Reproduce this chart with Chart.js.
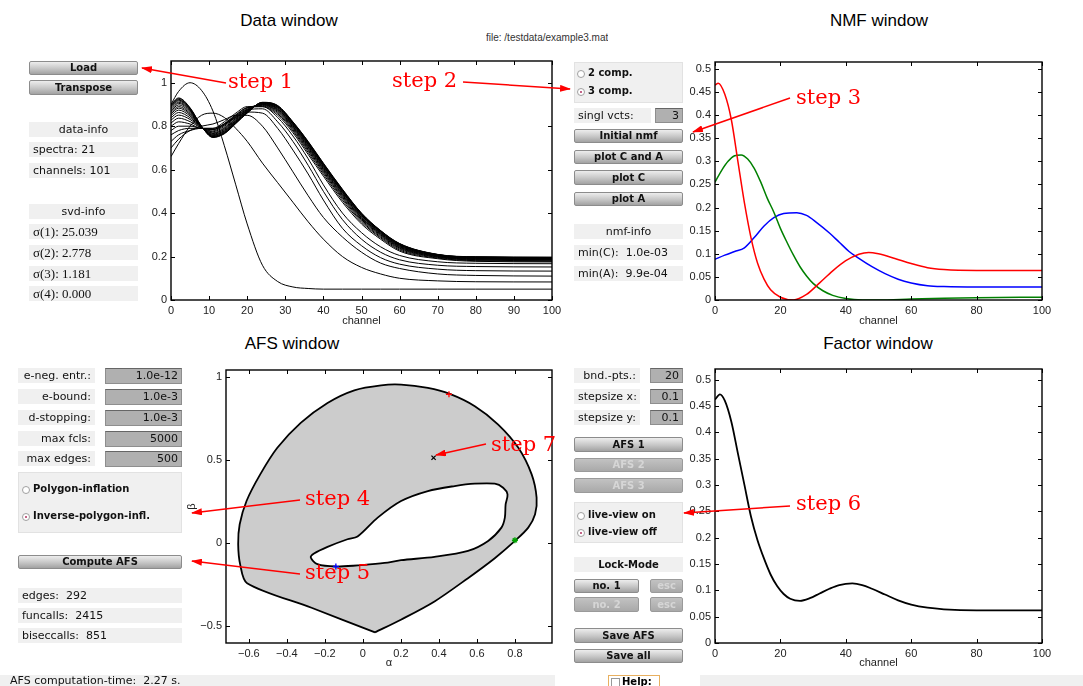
<!DOCTYPE html>
<html>
<head>
<meta charset="utf-8">
<script src="https://cdn.jsdelivr.net/npm/chart.js@4.4.1/dist/chart.umd.min.js"></script>
<style>
body{margin:0;background:#fff;width:1083px;height:686px;overflow:hidden;position:relative;font-family:"DejaVu Sans",sans-serif}
.w{position:absolute;box-sizing:border-box;white-space:pre;overflow:hidden}
.lbl{background:#f0f0f0;font-size:11px;color:#111;padding:0 4px}
.serif{font-family:"Liberation Serif",serif;font-size:13px}
.btn{background:linear-gradient(#ededed,#c6c6c6 55%,#a2a2a2);border:1px solid #8c8c8c;border-radius:2px;font-weight:bold;font-size:10px;text-align:center;color:#111}
.btn.off{background:linear-gradient(#c2c2c2,#a9a9a9);color:#d6d6d6;border-color:#9a9a9a}
.inp{background:#b0b0b0;border:1px solid #8e8e8e;border-top-color:#666;font-size:11px;text-align:right;padding-right:3px;color:#111}
.panel{background:#f0f0f0;border:1px solid #e2e2e2}
.dot{position:absolute;width:8px;height:8px;border:1px solid #a0a0a0;border-radius:50%;background:#fff;box-sizing:border-box}
.dot.on::after{content:"";position:absolute;left:2px;top:2px;width:2px;height:2px;border-radius:50%;background:#b03060}
.rlab{position:absolute;font-weight:bold;font-size:10px;color:#111;white-space:pre}
.title{position:absolute;font:17px "Liberation Sans",sans-serif;color:#000;text-align:center;width:300px}
canvas{position:absolute}
svg{position:absolute;left:0;top:0}
</style>
</head>
<body>
<div class="title" style="left:139px;top:11px">Data window</div>
<div class="title" style="left:729px;top:11px">NMF window</div>
<div class="title" style="left:142px;top:334px">AFS window</div>
<div class="title" style="left:728px;top:334px">Factor window</div>
<div class="w" style="left:486px;top:32px;font:10px 'Liberation Sans',sans-serif;color:#333">file: /testdata/example3.mat</div>

<canvas id="cData" width="425" height="275" style="left:140px;top:55px"></canvas>
<canvas id="cNmf" width="380" height="275" style="left:680px;top:55px"></canvas>
<canvas id="cAfs" width="380" height="310" style="left:185px;top:362px"></canvas>
<canvas id="cFac" width="380" height="310" style="left:680px;top:362px"></canvas>

<svg width="1083" height="686">
  <defs>
    <marker id="ah" markerWidth="11" markerHeight="7" refX="10" refY="3.5" orient="auto" markerUnits="userSpaceOnUse">
      <path d="M0,0 L11,3.5 L0,7 z" fill="#ff0000"/>
    </marker>
  </defs>
  <g stroke="#ff0000" stroke-width="1.5" marker-end="url(#ah)">
    <line x1="226" y1="83" x2="142" y2="68"/>
    <line x1="463" y1="82" x2="570" y2="89"/>
    <line x1="790" y1="98" x2="693" y2="132"/>
    <line x1="300" y1="500" x2="192" y2="513"/>
    <line x1="300" y1="574" x2="192" y2="561"/>
    <line x1="790" y1="506" x2="684" y2="513"/>
    <line x1="486" y1="444" x2="436" y2="455"/>
  </g>
  <g fill="#ff0000" font-family="DejaVu Serif, serif" font-size="21">
    <text x="228" y="88">step 1</text>
    <text x="392" y="87">step 2</text>
    <text x="796" y="104">step 3</text>
    <text x="305" y="505">step 4</text>
    <text x="305" y="579">step 5</text>
    <text x="796" y="510">step 6</text>
    <text x="491" y="451">step 7</text>
  </g>
</svg>

<script>
// ---- data window: 21 spectra sampled at these channels ----
const channelGrid = [0, 2, 5, 8, 11, 14, 17, 20, 24, 28, 32, 36, 40, 45, 50, 55, 60, 70, 80, 100];
const spec01 = [0.90, 0.96, 1.00, 0.965, 0.87, 0.71, 0.53, 0.35, 0.16, 0.085, 0.06, 0.053, 0.05, 0.05, 0.05, 0.05, 0.05, 0.05, 0.05, 0.05];
const spec02 = [0.66, 0.72, 0.80, 0.85, 0.86, 0.84, 0.79, 0.73, 0.63, 0.54, 0.45, 0.36, 0.28, 0.20, 0.15, 0.12, 0.10, 0.088, 0.084, 0.083];
const spec03 = [0.70, 0.74, 0.78, 0.80, 0.81, 0.83, 0.85, 0.85, 0.80, 0.70, 0.59, 0.48, 0.38, 0.29, 0.22, 0.17, 0.145, 0.12, 0.113, 0.11];
const spec04 = [0.73, 0.76, 0.78, 0.79, 0.79, 0.81, 0.84, 0.865, 0.86, 0.79, 0.69, 0.58, 0.46, 0.33, 0.25, 0.195, 0.165, 0.142, 0.135, 0.133];
const spec05 = [0.76, 0.78, 0.79, 0.79, 0.785, 0.805, 0.845, 0.875, 0.88, 0.82, 0.73, 0.62, 0.50, 0.37, 0.28, 0.22, 0.185, 0.16, 0.154, 0.152];
const spec06 = [0.78, 0.80, 0.80, 0.79, 0.785, 0.81, 0.85, 0.885, 0.89, 0.84, 0.755, 0.65, 0.53, 0.40, 0.31, 0.245, 0.205, 0.176, 0.169, 0.167];
const spec07 = [0.80, 0.82, 0.81, 0.79, 0.79, 0.82, 0.86, 0.89, 0.89, 0.85, 0.77, 0.67, 0.57, 0.45, 0.35, 0.28, 0.225, 0.19, 0.178, 0.175];
const spec08 = [0.815, 0.837, 0.821, 0.792, 0.784, 0.812, 0.853, 0.886, 0.893, 0.857, 0.778, 0.679, 0.579, 0.459, 0.358, 0.286, 0.230, 0.193, 0.181, 0.178];
const spec09 = [0.828, 0.851, 0.831, 0.793, 0.778, 0.805, 0.847, 0.882, 0.896, 0.863, 0.784, 0.687, 0.587, 0.467, 0.364, 0.291, 0.235, 0.196, 0.184, 0.181];
const spec10 = [0.839, 0.863, 0.839, 0.794, 0.774, 0.799, 0.841, 0.878, 0.898, 0.868, 0.790, 0.693, 0.593, 0.473, 0.370, 0.296, 0.239, 0.198, 0.186, 0.184];
const spec11 = [0.849, 0.874, 0.847, 0.795, 0.769, 0.793, 0.836, 0.875, 0.900, 0.872, 0.795, 0.699, 0.599, 0.479, 0.375, 0.300, 0.242, 0.200, 0.188, 0.186];
const spec12 = [0.857, 0.883, 0.853, 0.796, 0.766, 0.789, 0.833, 0.873, 0.901, 0.876, 0.799, 0.704, 0.604, 0.484, 0.379, 0.303, 0.245, 0.201, 0.190, 0.188];
const spec13 = [0.864, 0.890, 0.858, 0.796, 0.763, 0.785, 0.829, 0.871, 0.903, 0.879, 0.802, 0.708, 0.608, 0.488, 0.382, 0.306, 0.247, 0.203, 0.191, 0.189];
const spec14 = [0.871, 0.898, 0.863, 0.797, 0.760, 0.781, 0.826, 0.869, 0.904, 0.882, 0.806, 0.713, 0.613, 0.493, 0.386, 0.308, 0.250, 0.204, 0.193, 0.191];
const spec15 = [0.877, 0.905, 0.868, 0.798, 0.758, 0.778, 0.823, 0.867, 0.905, 0.885, 0.809, 0.716, 0.616, 0.496, 0.389, 0.311, 0.252, 0.205, 0.194, 0.192];
const spec16 = [0.882, 0.910, 0.872, 0.798, 0.756, 0.775, 0.821, 0.865, 0.906, 0.887, 0.811, 0.719, 0.619, 0.499, 0.391, 0.313, 0.254, 0.206, 0.195, 0.193];
const spec17 = [0.887, 0.916, 0.875, 0.799, 0.753, 0.772, 0.818, 0.864, 0.907, 0.889, 0.814, 0.722, 0.622, 0.502, 0.394, 0.315, 0.255, 0.207, 0.196, 0.194];
const spec18 = [0.891, 0.920, 0.878, 0.799, 0.752, 0.770, 0.816, 0.863, 0.908, 0.891, 0.816, 0.725, 0.625, 0.505, 0.396, 0.316, 0.257, 0.208, 0.197, 0.195];
const spec19 = [0.894, 0.923, 0.881, 0.799, 0.751, 0.768, 0.815, 0.862, 0.909, 0.892, 0.817, 0.726, 0.626, 0.506, 0.397, 0.318, 0.258, 0.209, 0.198, 0.196];
const spec20 = [0.897, 0.927, 0.883, 0.800, 0.749, 0.767, 0.813, 0.861, 0.909, 0.894, 0.819, 0.728, 0.628, 0.508, 0.399, 0.319, 0.259, 0.209, 0.198, 0.196];
const spec21 = [0.900, 0.930, 0.885, 0.800, 0.748, 0.765, 0.812, 0.860, 0.910, 0.895, 0.820, 0.730, 0.630, 0.510, 0.400, 0.320, 0.260, 0.210, 0.199, 0.197];
const spectraRows = [spec01, spec02, spec03, spec04, spec05, spec06, spec07, spec08, spec09, spec10, spec11,
                     spec12, spec13, spec14, spec15, spec16, spec17, spec18, spec19, spec20, spec21];

// ---- NMF window: three factors ----
const nmfRedX = [0, 1, 3, 5, 7, 9, 11, 13, 15, 17, 20, 24, 28, 32, 36, 40, 44, 47, 50, 55, 60, 65, 70, 80, 90, 100];
const nmfRed = [0.465, 0.469, 0.445, 0.39, 0.30, 0.21, 0.135, 0.08, 0.045, 0.022, 0.006, 0, 0.012, 0.037, 0.063, 0.085, 0.099, 0.103, 0.10, 0.09, 0.079, 0.07, 0.066, 0.064, 0.064, 0.064];
const nmfGreenX = [0, 2, 4, 6, 8, 10, 12, 14, 16, 18, 20, 22, 24, 26, 28, 30, 33, 36, 40, 45, 50, 60, 70, 80, 100];
const nmfGreen = [0.255, 0.28, 0.30, 0.312, 0.314, 0.305, 0.285, 0.255, 0.22, 0.19, 0.155, 0.125, 0.097, 0.072, 0.052, 0.036, 0.02, 0.01, 0.003, 0, 0, 0.002, 0.004, 0.005, 0.006];
const nmfBlueX = [0, 3, 6, 9, 12, 15, 18, 21, 25, 28, 31, 35, 38, 41, 44, 48, 52, 56, 60, 65, 70, 80, 100];
const nmfBlue = [0.088, 0.097, 0.105, 0.113, 0.135, 0.16, 0.178, 0.187, 0.189, 0.183, 0.168, 0.145, 0.125, 0.105, 0.09, 0.072, 0.057, 0.045, 0.037, 0.031, 0.029, 0.028, 0.028];

// ---- Factor window ----
const factorX = [0, 1.5, 3, 5, 7, 9, 11, 13, 15, 17, 19, 21, 23, 26, 29, 32, 35, 38, 42, 45, 48, 52, 56, 60, 65, 70, 80, 100];
const factorY = [0.462, 0.472, 0.46, 0.42, 0.36, 0.30, 0.24, 0.195, 0.16, 0.13, 0.108, 0.093, 0.084, 0.08, 0.085, 0.094, 0.103, 0.11, 0.113, 0.11, 0.103, 0.092, 0.081, 0.073, 0.067, 0.064, 0.062, 0.062];

// ---- AFS window: outer boundary and inner hole (alpha, beta) ----
const outerAlpha = [0.064, -0.27, -0.609, -0.645, -0.656, -0.648, -0.612, -0.54, -0.45, -0.327, -0.186, -0.045, 0.096, 0.201, 0.342, 0.457, 0.589, 0.712, 0.818, 0.888, 0.914, 0.906, 0.87, 0.80, 0.694, 0.553, 0.377, 0.20, 0.064];
const outerBeta = [-0.536, -0.388, -0.24, -0.13, -0.006, 0.114, 0.254, 0.414, 0.574, 0.724, 0.844, 0.92, 0.95, 0.954, 0.934, 0.898, 0.824, 0.714, 0.574, 0.414, 0.274, 0.174, 0.094, 0.014, -0.09, -0.21, -0.35, -0.46, -0.536];
const holeAlpha = [-0.01, -0.142, -0.239, -0.274, -0.257, -0.186, -0.081, -0.028, 0.078, 0.201, 0.342, 0.483, 0.589, 0.694, 0.738, 0.761, 0.751, 0.747, 0.729, 0.659, 0.553, 0.377, 0.201, 0.131, -0.01];
const holeBeta = [-0.132, -0.14, -0.126, -0.086, -0.062, -0.022, 0.024, 0.04, 0.154, 0.254, 0.314, 0.344, 0.358, 0.358, 0.334, 0.294, 0.234, 0.154, 0.094, 0.014, -0.046, -0.082, -0.102, -0.116, -0.132];
const markRed = [0.453, 0.896];
const markGreen = [0.80, 0.018];
const markBlue = [-0.142, -0.14];
const markBlack = [0.372, 0.514];

// ---- tick values ----
const dataXTicks = [0, 10, 20, 30, 40, 50, 60, 70, 80, 90, 100];
const dataYTicks = [0, 0.2, 0.4, 0.6, 0.8, 1];
const chanTicks = [0, 20, 40, 60, 80, 100];
const factorTicks = [0, 0.05, 0.1, 0.15, 0.2, 0.25, 0.3, 0.35, 0.4, 0.45, 0.5];
const alphaTicks = [-0.6, -0.4, -0.2, 0, 0.2, 0.4, 0.6, 0.8];
const betaTicks = [-0.5, 0, 0.5, 1];

// ---- GUI widgets ----
const widgets = [
  ['btn', 'Load', 29, 61, 109, 14], ['btn', 'Transpose', 29, 80, 109, 15],
  ['lbl c', 'data-info', 29, 122, 109, 15], ['lbl', 'spectra: 21', 29, 142, 109, 15], ['lbl', 'channels: 101', 29, 163, 109, 15],
  ['lbl c', 'svd-info', 29, 204, 109, 15],
  ['lbl serif', 'σ(1): 25.039', 29, 224, 109, 15], ['lbl serif', 'σ(2): 2.778', 29, 245, 109, 15],
  ['lbl serif', 'σ(3): 1.181', 29, 266, 109, 15], ['lbl serif', 'σ(4): 0.000', 29, 286, 109, 15],
  ['panel', '', 574, 62, 109, 41],
  ['lbl', 'singl vcts:', 574, 108, 77, 15], ['inp', '3', 655, 108, 28, 15],
  ['btn', 'Initial nmf', 574, 129, 109, 14], ['btn', 'plot C and A', 574, 150, 109, 14],
  ['btn', 'plot C', 574, 170, 109, 15], ['btn', 'plot A', 574, 192, 109, 14],
  ['lbl c', 'nmf-info', 574, 224, 109, 15], ['lbl', 'min(C):  1.0e-03', 574, 245, 109, 15], ['lbl', 'min(A):  9.9e-04', 574, 266, 109, 15],
  ['lbl r', 'e-neg. entr.:', 18, 368, 77, 15], ['inp', '1.0e-12', 105, 368, 77, 16],
  ['lbl r', 'e-bound:', 18, 389, 77, 15], ['inp', '1.0e-3', 105, 389, 77, 16],
  ['lbl r', 'd-stopping:', 18, 410, 77, 15], ['inp', '1.0e-3', 105, 410, 77, 16],
  ['lbl r', 'max fcls:', 18, 431, 77, 15], ['inp', '5000', 105, 431, 77, 16],
  ['lbl r', 'max edges:', 18, 451, 77, 15], ['inp', '500', 105, 451, 77, 16],
  ['panel', '', 18, 472, 164, 61],
  ['btn', 'Compute AFS', 18, 555, 164, 14],
  ['lbl', 'edges:  292', 18, 588, 164, 15], ['lbl', 'funcalls:  2415', 18, 608, 164, 15], ['lbl', 'biseccalls:  851', 18, 628, 164, 15],
  ['lbl', 'AFS computation-time:  2.27 s.', 0, 675, 555, 12],
  ['lbl', '', 700, 675, 383, 12],
  ['lbl r', 'bnd.-pts.:', 574, 368, 66, 15], ['inp', '20', 650, 368, 33, 15],
  ['lbl r', 'stepsize x:', 574, 389, 66, 15], ['inp', '0.1', 650, 389, 33, 15],
  ['lbl r', 'stepsize y:', 574, 410, 66, 15], ['inp', '0.1', 650, 410, 33, 15],
  ['btn', 'AFS 1', 574, 437, 109, 15], ['btn off', 'AFS 2', 574, 458, 109, 14], ['btn off', 'AFS 3', 574, 478, 109, 15],
  ['panel', '', 574, 502, 109, 41],
  ['lbl c b', 'Lock-Mode', 574, 557, 109, 15],
  ['btn', 'no. 1', 574, 579, 65, 14], ['btn off', 'esc', 650, 579, 33, 14],
  ['btn off', 'no. 2', 574, 597, 65, 15], ['btn off', 'esc', 650, 597, 33, 15],
  ['btn', 'Save AFS', 574, 628, 109, 15], ['btn', 'Save all', 574, 649, 109, 14]
];
const radios = [
  ['2 comp.', 577, 74, false], ['3 comp.', 577, 92, true],
  ['Polygon-inflation', 22, 490, false], ['Inverse-polygon-infl.', 22, 517, true],
  ['live-view on', 577, 516, false], ['live-view off', 577, 533, true]
];

widgets.forEach(([cls, text, x, y, w, h]) => {
  const el = document.createElement('div');
  const parts = cls.split(' ');
  el.className = 'w ' + parts.filter(p => p !== 'c' && p !== 'r' && p !== 'b').join(' ');
  el.textContent = text;
  el.style.cssText += `left:${x}px;top:${y}px;width:${w}px;height:${h}px;line-height:${h - (parts[0] === 'lbl' ? 0 : 2)}px;`;
  if (parts.includes('c')) el.style.textAlign = 'center';
  if (parts.includes('r')) el.style.textAlign = 'right';
  if (parts.includes('b')) { el.style.fontWeight = 'bold'; el.style.fontSize = '10px'; }
  if (text.startsWith('AFS computation')) el.style.paddingLeft = '10px';
  document.body.appendChild(el);
});
radios.forEach(([text, x, y, on]) => {
  const d = document.createElement('div');
  d.className = 'dot' + (on ? ' on' : '');
  d.style.left = x + 'px'; d.style.top = (y - 4) + 'px';
  document.body.appendChild(d);
  const l = document.createElement('div');
  l.className = 'rlab';
  l.textContent = text;
  l.style.left = (x + 11) + 'px'; l.style.top = (y - 7) + 'px';
  document.body.appendChild(l);
});
// help checkbox
const help = document.createElement('div');
help.className = 'w';
help.style.cssText = 'left:608px;top:675px;width:52px;height:13px;border:1px solid #e8b060;font-weight:bold;font-size:10px;line-height:12px;padding-left:13px;background:#fff';
help.textContent = 'Help:';
document.body.appendChild(help);
const hbox = document.createElement('div');
hbox.style.cssText = 'position:absolute;left:611px;top:678px;width:7px;height:7px;border:1px solid #999;background:#fff';
document.body.appendChild(hbox);

// ---- Chart.js setup ----
Chart.defaults.font.family = '"Liberation Sans", Arial, sans-serif';
Chart.defaults.font.size = 11;
Chart.defaults.color = '#222';
Chart.defaults.animation = false;

const matlabBox = {
  id: 'matlabBox',
  afterDraw(chart) {
    const {ctx, chartArea: a, scales: {x, y}} = chart;
    ctx.save();
    ctx.strokeStyle = '#000';
    ctx.lineWidth = 1;
    ctx.beginPath();
    x.ticks.forEach(t => {
      const px = Math.round(x.getPixelForValue(t.value)) + 0.5;
      ctx.moveTo(px, a.bottom); ctx.lineTo(px, a.bottom - 4);
      ctx.moveTo(px, a.top); ctx.lineTo(px, a.top + 4);
    });
    y.ticks.forEach(t => {
      const py = Math.round(y.getPixelForValue(t.value)) + 0.5;
      ctx.moveTo(a.left, py); ctx.lineTo(a.left + 4, py);
      ctx.moveTo(a.right, py); ctx.lineTo(a.right - 4, py);
    });
    ctx.stroke();
    ctx.lineWidth = 1.4;
    ctx.strokeRect(a.left, a.top, a.right - a.left, a.bottom - a.top);
    ctx.restore();
  }
};

const fmt = v => String(v).replace('-', '\u2212');

function axis(ticks, min, max, size, title, horizontal) {
  return {
    type: 'linear', min, max,
    grid: {display: false, drawTicks: false},
    border: {display: false},
    ticks: {padding: 4, autoSkip: false, maxRotation: 0, callback: v => fmt(v)},
    afterBuildTicks: s => { s.ticks = ticks.map(v => ({value: v})); },
    afterFit: s => {
      if (horizontal) s.height = size; else s.width = size;
      s.paddingLeft = 0; s.paddingRight = 0; s.paddingTop = 0; s.paddingBottom = 0;
    },
    title: title ? {display: true, text: title, color: '#222', padding: {top: 0, bottom: 2}, font: {size: 11}} : {display: false}
  };
}

function pts(xs, ys) { return xs.map((x, i) => ({x, y: ys[i]})); }

function makeChart(id, datasets, xAxis, yAxis, pad) {
  return new Chart(document.getElementById(id), {
    type: 'line',
    data: {datasets},
    options: {
      responsive: false,
      devicePixelRatio: 1,
      layout: {padding: pad},
      plugins: {legend: {display: false}, tooltip: {enabled: false}},
      elements: {point: {radius: 0}},
      scales: {x: xAxis, y: yAxis}
    },
    plugins: [matlabBox]
  });
}

const curve = (xs, ys, color, width) => ({
  data: pts(xs, ys), borderColor: color, borderWidth: width, pointRadius: 0,
  cubicInterpolationMode: 'monotone', fill: false
});

// Data window
makeChart('cData',
  spectraRows.map(row => curve(channelGrid, row, '#000', 1)),
  axis(dataXTicks, 0, 100, 30, 'channel', true),
  axis(dataYTicks, 0, 1.1, 31, null, false),
  {left: 0, top: 6, right: 13, bottom: 0});

// NMF window
makeChart('cNmf', [
    curve(nmfRedX, nmfRed, '#ff0000', 1.5),
    curve(nmfGreenX, nmfGreen, '#008000', 1.5),
    curve(nmfBlueX, nmfBlue, '#0000ff', 1.5)
  ],
  axis(chanTicks, 0, 100, 30, 'channel', true),
  axis(factorTicks, 0, 0.515, 35, null, false),
  {left: 0, top: 7, right: 18, bottom: 0});

// AFS window
const marker = (p, color, style) => ({
  data: [{x: p[0], y: p[1]}], showLine: false, pointStyle: style, pointRadius: 3,
  pointBorderColor: color, pointBackgroundColor: color, pointBorderWidth: 1.3, order: 0
});
makeChart('cAfs', [
    {data: pts(outerAlpha, outerBeta), borderColor: '#000', borderWidth: 1.8, backgroundColor: '#cccccc',
     fill: 'shape', tension: 0.3, pointRadius: 0, order: 2},
    {data: pts(holeAlpha, holeBeta), borderColor: '#000', borderWidth: 1.8, backgroundColor: '#ffffff',
     fill: 'shape', tension: 0.3, pointRadius: 0, order: 1},
    marker(markRed, '#ff0000', 'cross'),
    marker(markGreen, '#00a000', 'star'),
    marker(markBlue, '#0000ff', 'cross'),
    marker(markBlack, '#000000', 'crossRot')
  ],
  axis(alphaTicks, -0.72, 0.995, 29, '\u03b1', true),
  axis(betaTicks, -0.6, 1.042, 41, '\u03b2', false),
  {left: 0, top: 8, right: 13, bottom: 0});

// Factor window
makeChart('cFac', [curve(factorX, factorY, '#000', 1.8)],
  axis(chanTicks, 0, 100, 29, 'channel', true),
  axis(factorTicks, 0, 0.52, 35, null, false),
  {left: 0, top: 7, right: 18, bottom: 0});
</script>
</body>
</html>
